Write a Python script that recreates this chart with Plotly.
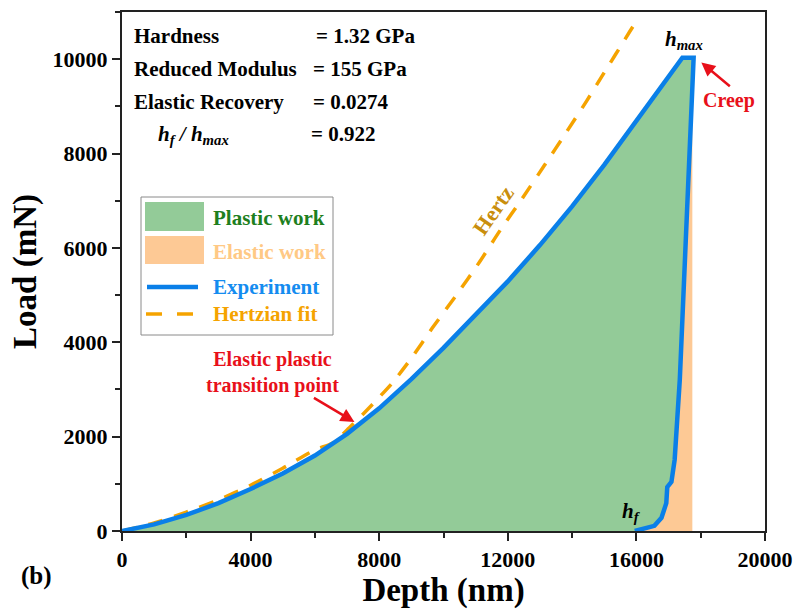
import plotly.graph_objects as go

# ---------------- data ----------------
load_depth = [0, 500, 1000, 2000, 3000, 4000, 5000, 6000, 7000, 8000, 9000, 10000,
              11000, 12000, 13000, 14000, 15000, 16000, 17000, 17430]
load_force = [0, 60, 140, 340, 590, 890, 1220, 1600, 2060, 2600, 3220, 3880,
              4570, 5290, 6060, 6880, 7760, 8680, 9620, 10030]

creep_depth = [17780]
creep_force = [10030]

unload_depth = [17660, 17545, 17430, 17350, 17270, 17190, 17090, 16960, 16930, 16780, 16560, 15950]
unload_force = [8000, 6000, 4055, 3210, 2360, 1510, 1040, 930, 590, 280, 110, 0]

hertz_depth = [0, 1000, 2000, 3000, 4000, 5000, 6000, 6540, 7000, 7630, 8410, 9030, 9650,
               10400, 11120, 11740, 12450, 13140, 13820, 14440, 14940, 15780, 15900]
hertz_force = [0, 170, 400, 660, 970, 1330, 1720, 1860, 2140, 2570, 3140, 3690, 4300,
               5000, 5700, 6350, 7050, 7750, 8450, 9100, 9650, 10570, 10700]

elastic_edge = 17740  # right boundary of the elastic-work region

x_ticks = [0, 4000, 8000, 12000, 16000, 20000]
y_ticks = [0, 2000, 4000, 6000, 8000, 10000]

results_labels = ["Hardness", "Reduced Modulus", "Elastic Recovery"]
results_values = ["= 1.32 GPa", "= 155 GPa", "= 0.0274"]
ratio_value = "= 0.922"

# ---------------- styling ----------------
FONT = "Liberation Serif, Times New Roman, serif"
GREEN = "#93CB98"
PEACH = "#FDC995"
BLUE = "#0A7FE8"
ORANGE = "#F5A300"
RED = "#E8101A"
TXT = 21

L, R, T, B = 122, 765, 12, 531
def px(x):
    return (x - L) / (R - L)
def py(y):
    return (B - y) / (B - T)

fig = go.Figure()

# elastic work region (between unloading curve and the vertical at h_max)
ex = [elastic_edge, elastic_edge] + creep_depth + unload_depth
ey = [0, creep_force[0]] + creep_force + unload_force
fig.add_trace(go.Scatter(x=ex, y=ey, fill="toself", fillcolor=PEACH, mode="none",
                         hoverinfo="skip", showlegend=False))

# plastic work region (enclosed by loading / unloading)
gx = load_depth + creep_depth + unload_depth
gy = load_force + creep_force + unload_force
fig.add_trace(go.Scatter(x=gx, y=gy, fill="toself", fillcolor=GREEN, mode="none",
                         hoverinfo="skip", showlegend=False))

# Hertzian fit
fig.add_trace(go.Scatter(x=hertz_depth, y=hertz_force, mode="lines",
                         line=dict(color=ORANGE, width=3.5, dash="15px,12px", shape="spline", smoothing=0.6),
                         showlegend=False))

# experiment
fig.add_trace(go.Scatter(x=gx, y=gy, mode="lines",
                         line=dict(color=BLUE, width=4.5),
                         showlegend=False))

shapes = []
annotations = []

# ---------------- manual legend ----------------
shapes.append(dict(type="rect", xref="paper", yref="paper",
                   x0=px(141), x1=px(333), y0=py(335), y1=py(197),
                   line=dict(color="#8a8a8a", width=1), fillcolor="white"))
shapes.append(dict(type="rect", xref="paper", yref="paper",
                   x0=px(145), x1=px(204), y0=py(231), y1=py(202),
                   line=dict(width=0), fillcolor=GREEN))
shapes.append(dict(type="rect", xref="paper", yref="paper",
                   x0=px(145), x1=px(204), y0=py(264), y1=py(236),
                   line=dict(width=0), fillcolor=PEACH))
shapes.append(dict(type="line", xref="paper", yref="paper",
                   x0=px(147), x1=px(198), y0=py(287), y1=py(287),
                   line=dict(color=BLUE, width=4.5)))
for a, b in [(146, 162), (177, 193)]:
    shapes.append(dict(type="line", xref="paper", yref="paper",
                       x0=px(a), x1=px(b), y0=py(314), y1=py(314),
                       line=dict(color=ORANGE, width=3.5)))

legend_items = [("Plastic work", "#1E7F1E", 218), ("Elastic work", "#FFC985", 252),
                ("Experiment", "#148CF0", 287), ("Hertzian fit", "#F5A300", 314)]
for txt, col, yy in legend_items:
    annotations.append(dict(xref="paper", yref="paper", x=px(211), y=py(yy),
                            xanchor="left", yanchor="middle", showarrow=False,
                            text=f"<b>{txt}</b>", font=dict(family=FONT, size=TXT, color=col)))

# ---------------- results text ----------------
for i, (lab, val) in enumerate(zip(results_labels, results_values)):
    yy = [36, 69, 102][i]
    annotations.append(dict(xref="paper", yref="paper", x=px(132), y=py(yy),
                            xanchor="left", yanchor="middle", showarrow=False,
                            text=f"<b>{lab}</b>", font=dict(family=FONT, size=TXT, color="black")))
    annotations.append(dict(xref="paper", yref="paper", x=px(311 if i else 314), y=py(yy),
                            xanchor="left", yanchor="middle", showarrow=False,
                            text=f"<b>{val}</b>", font=dict(family=FONT, size=TXT, color="black")))
annotations.append(dict(xref="paper", yref="paper", x=px(156), y=py(135),
                        xanchor="left", yanchor="middle", showarrow=False,
                        text="<b><i>h</i><sub><i>f</i></sub><i> / h</i><sub><i>max</i></sub></b>",
                        font=dict(family=FONT, size=TXT, color="black")))
annotations.append(dict(xref="paper", yref="paper", x=px(309), y=py(134),
                        xanchor="left", yanchor="middle", showarrow=False,
                        text=f"<b>{ratio_value}</b>", font=dict(family=FONT, size=TXT, color="black")))

# h_max, h_f labels
annotations.append(dict(xref="paper", yref="paper", x=px(684), y=py(40),
                        xanchor="center", yanchor="middle", showarrow=False,
                        text="<b><i>h</i><sub><i>max</i></sub></b>",
                        font=dict(family=FONT, size=TXT, color="black")))
annotations.append(dict(xref="paper", yref="paper", x=px(631), y=py(512),
                        xanchor="center", yanchor="middle", showarrow=False,
                        text="<b><i>h</i><sub><i>f</i></sub></b>",
                        font=dict(family=FONT, size=TXT, color="black")))

# Hertz label
annotations.append(dict(xref="paper", yref="paper", x=px(493), y=py(210),
                        xanchor="center", yanchor="middle", showarrow=False, textangle=-55,
                        text="<b>Hertz</b>", font=dict(family=FONT, size=22, color="#C98E0C")))

# Creep
annotations.append(dict(xref="paper", yref="paper", x=px(729), y=py(100),
                        xanchor="center", yanchor="middle", showarrow=False,
                        text="<b>Creep</b>", font=dict(family=FONT, size=20, color=RED)))
annotations.append(dict(x=18020, y=9930, xref="x", yref="y", text="", showarrow=True,
                        ax=30, ay=25, arrowhead=2, arrowsize=1.1, arrowwidth=2.5, arrowcolor=RED))

# transition point
annotations.append(dict(xref="paper", yref="paper", x=px(272), y=py(372),
                        xanchor="center", yanchor="middle", showarrow=False,
                        text="<b>Elastic plastic<br>transition point</b>",
                        font=dict(family=FONT, size=20, color=RED)))
annotations.append(dict(x=7230, y=2310, xref="x", yref="y", text="", showarrow=True,
                        ax=-42, ay=-25, arrowhead=2, arrowsize=1.1, arrowwidth=2.5, arrowcolor=RED))

# (b)
annotations.append(dict(xref="paper", yref="paper", x=px(36), y=py(576),
                        xanchor="center", yanchor="middle", showarrow=False,
                        text="<b>(b)</b>", font=dict(family=FONT, size=25, color="black")))

fig.update_layout(
    width=797, height=609,
    margin=dict(l=L, r=797 - R, t=T, b=609 - B),
    paper_bgcolor="white", plot_bgcolor="white",
    shapes=shapes, annotations=annotations, showlegend=False,
    font=dict(family=FONT, color="black"),
)

axis_common = dict(showgrid=False, zeroline=False, showline=True, mirror=True,
                   linecolor="#222222", linewidth=2, ticks="outside", ticklen=8,
                   tickwidth=2, tickcolor="#222222", automargin=False,
                   tickfont=dict(family=FONT, size=22, color="black"))

fig.update_xaxes(range=[0, 20000], tickvals=x_ticks, ticktext=[f"<b>{v}</b>" for v in x_ticks],
                 minor=dict(ticks="outside", ticklen=5, tickwidth=2, dtick=2000, tickcolor="#222222"),
                 title=dict(text="<b>Depth (nm)</b>", font=dict(family=FONT, size=33), standoff=2),
                 **axis_common)
fig.update_yaxes(range=[0, 11000], tickvals=y_ticks, ticktext=[f"<b>{v}</b>" for v in y_ticks],
                 minor=dict(ticks="outside", ticklen=5, tickwidth=2, dtick=1000, tickcolor="#222222"),
                 title=dict(text="<b>Load (mN)</b>", font=dict(family=FONT, size=33), standoff=6),
                 **axis_common)

fig.write_html("out.html", config={"displayModeBar": False},
               post_script="document.body.style.margin='0';")
